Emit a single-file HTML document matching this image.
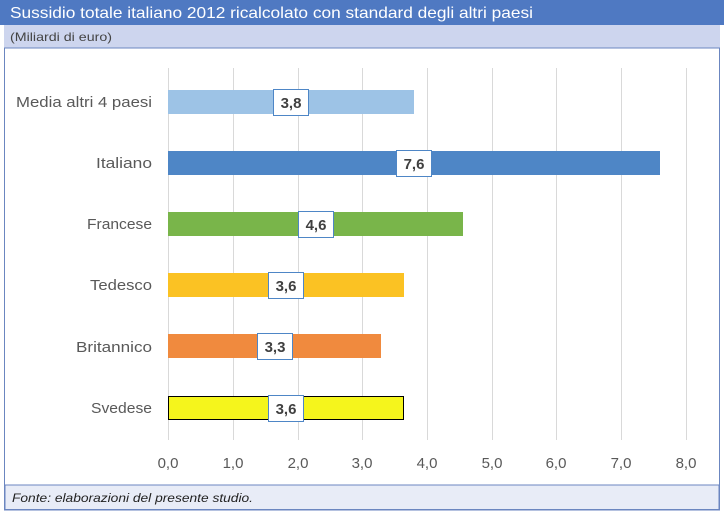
<!DOCTYPE html>
<html><head><meta charset="utf-8"><style>
body{margin:0;width:728px;height:512px;background:#fff;overflow:hidden;font-family:"Liberation Sans",sans-serif}
</style></head><body>
<svg width="728" height="512" xmlns="http://www.w3.org/2000/svg" font-family="Liberation Sans, sans-serif">
<rect x="0" y="0" width="724" height="25" fill="#4f79c2"/>
<text x="10" y="18" fill="#fff" font-size="16" textLength="523" lengthAdjust="spacingAndGlyphs">Sussidio totale italiano 2012 ricalcolato con standard degli altri paesi</text>
<rect x="4" y="25" width="716" height="23" fill="#cdd5ee"/>
<text x="10" y="41" fill="#444" font-size="12" textLength="102" lengthAdjust="spacingAndGlyphs">(Miliardi di euro)</text>
<rect x="4.5" y="48" width="715" height="462" fill="none" stroke="#6b86c0"/>
<rect x="5" y="485" width="714" height="24.5" fill="#e8ecf7" stroke="#6b86c0"/>
<text x="12" y="502" fill="#222" font-size="12" font-style="italic" textLength="241" lengthAdjust="spacingAndGlyphs">Fonte: elaborazioni del presente studio.</text>
<g stroke="#d9d9d9" stroke-width="1">
<line x1="168.5" y1="68" x2="168.5" y2="440"/><line x1="233.5" y1="68" x2="233.5" y2="440"/><line x1="298.5" y1="68" x2="298.5" y2="440"/><line x1="362.5" y1="68" x2="362.5" y2="440"/><line x1="427.5" y1="68" x2="427.5" y2="440"/><line x1="492.5" y1="68" x2="492.5" y2="440"/><line x1="556.5" y1="68" x2="556.5" y2="440"/><line x1="621.5" y1="68" x2="621.5" y2="440"/><line x1="686.5" y1="68" x2="686.5" y2="440"/>
</g>
<g font-size="15" fill="#595959" text-anchor="middle">
<text x="168" y="468">0,0</text><text x="233" y="468">1,0</text><text x="298" y="468">2,0</text><text x="362" y="468">3,0</text><text x="427" y="468">4,0</text><text x="492" y="468">5,0</text><text x="556" y="468">6,0</text><text x="621" y="468">7,0</text><text x="686" y="468">8,0</text>
</g>
<g font-size="15" fill="#595959">
<text x="16" y="107" textLength="136" lengthAdjust="spacingAndGlyphs">Media altri 4 paesi</text>
<text x="96" y="168" textLength="56" lengthAdjust="spacingAndGlyphs">Italiano</text>
<text x="87" y="229" textLength="65" lengthAdjust="spacingAndGlyphs">Francese</text>
<text x="90" y="290" textLength="62" lengthAdjust="spacingAndGlyphs">Tedesco</text>
<text x="76" y="352" textLength="76" lengthAdjust="spacingAndGlyphs">Britannico</text>
<text x="91" y="413" textLength="61" lengthAdjust="spacingAndGlyphs">Svedese</text>
</g>
<rect x="168" y="90" width="246" height="24" fill="#9dc3e6"/>
<rect x="168" y="151" width="492" height="24" fill="#4e86c6"/>
<rect x="168" y="212" width="295" height="24" fill="#79b54a"/>
<rect x="168" y="273" width="236" height="24" fill="#fbc223"/>
<rect x="168" y="334" width="213" height="24" fill="#f08a3e"/>
<rect x="168.5" y="396.5" width="235" height="23" fill="#f5f51c" stroke="#000"/>
<g font-size="15" font-weight="bold" fill="#404040" text-anchor="middle">
<rect x="273.5" y="89.5" width="35" height="26" fill="#fff" stroke="#4e86c6"/><text x="291" y="108">3,8</text>
<rect x="396.5" y="150.5" width="35" height="26" fill="#fff" stroke="#4e86c6"/><text x="414" y="169">7,6</text>
<rect x="298.5" y="211.5" width="35" height="26" fill="#fff" stroke="#4e86c6"/><text x="316" y="230">4,6</text>
<rect x="268.5" y="272.5" width="35" height="26" fill="#fff" stroke="#4e86c6"/><text x="286" y="291">3,6</text>
<rect x="257.5" y="333.5" width="35" height="26" fill="#fff" stroke="#4e86c6"/><text x="275" y="352">3,3</text>
<rect x="268.5" y="395.5" width="35" height="26" fill="#fff" stroke="#4e86c6"/><text x="286" y="414">3,6</text>
</g>
</svg>
</body></html>
